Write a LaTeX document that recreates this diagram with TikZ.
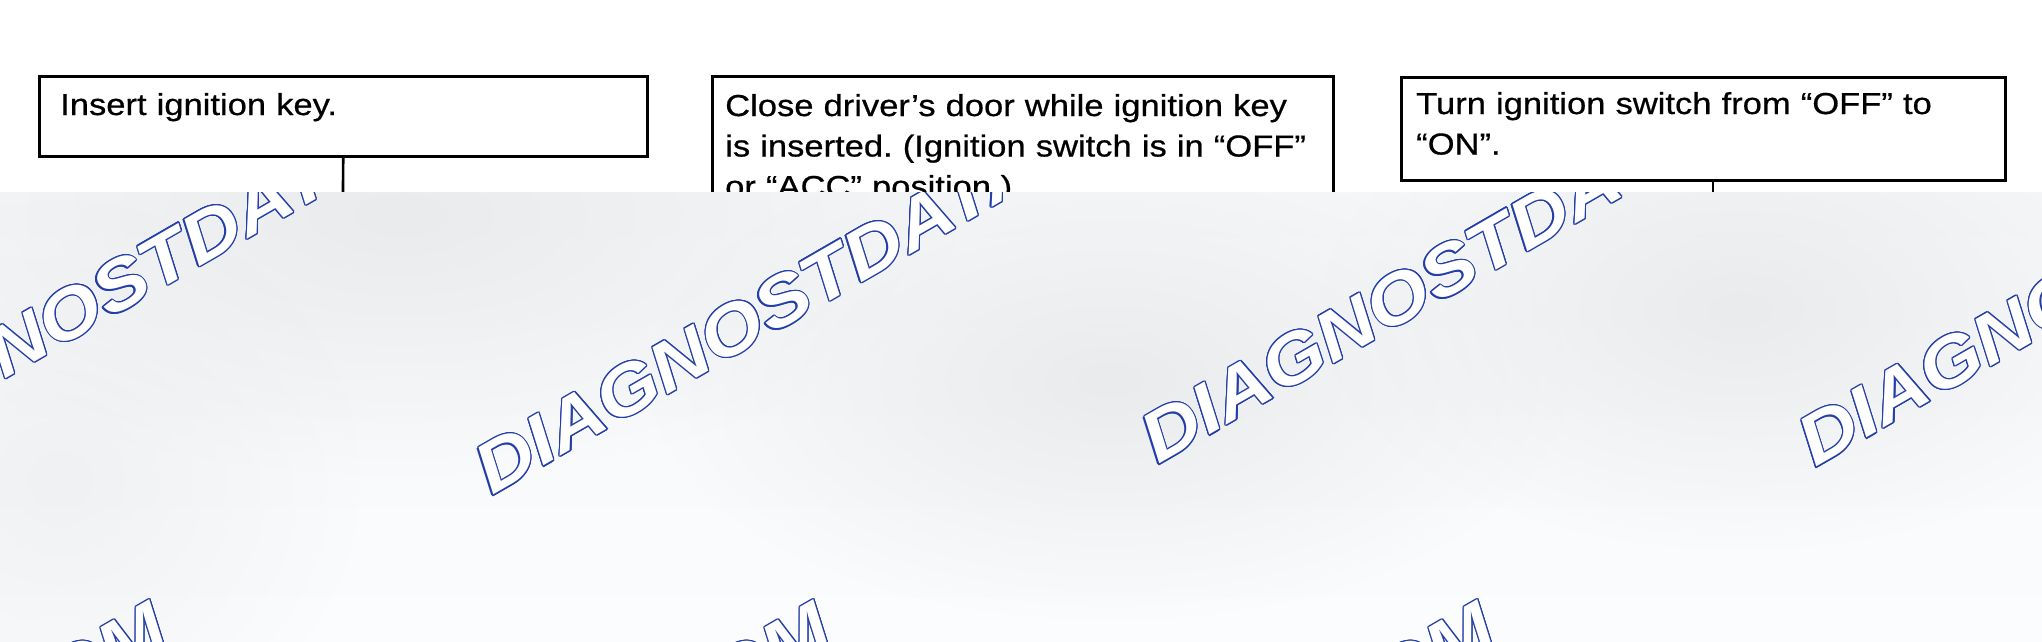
\documentclass[tikz,border=0pt]{standalone}
\usepackage{fontspec}
\usetikzlibrary{fadings}
\setmainfont{Liberation Sans}
\newfontfamily\boxfont{Liberation Sans}[FakeStretch=1.14, FakeBold=0.6]
\newfontfamily\wmfont{Liberation Sans}[FakeStretch=1.15]
\definecolor{wmblue}{RGB}{35,62,168}
\definecolor{bgc}{RGB}{246,247,248}
\definecolor{bgl}{RGB}{251,252,253}
\definecolor{blob}{RGB}{234,235,237}
\tikzfading[name=softblob, inner color=transparent!0, outer color=transparent!100]
\newcommand{\wmark}[1]{%
  \foreach \wa in {0,22.5,...,337.5}{%
    \pgfmathsetlengthmacro\wdx{1.2pt*cos(\wa)}%
    \pgfmathsetlengthmacro\wdy{1.2pt*sin(\wa)}%
    \rlap{\kern\wdx\raisebox{\wdy}{\color{wmblue}#1}}}%
  \textcolor{white}{#1}}
\frenchspacing
\begin{document}
\begin{tikzpicture}[x=1pt,y=-1pt,
  stepbox/.style={draw=black, line width=2.5pt, inner sep=0pt, anchor=north west},
  boxtext/.style={anchor=base west, inner sep=0pt, text width=610pt, align=left,
    font=\boxfont\fontsize{30.3}{40.5}\selectfont},
  link/.style={draw=black, line width=2.6pt},
  wm/.style={anchor=base west, inner sep=0pt, rotate=30,
    font=\wmfont\bfseries\itshape\fontsize{70}{70}\selectfont},
  wmend/.style={wm, anchor=base east}]
\useasboundingbox (0,0) rectangle (2042,642);
\fill[white] (0,0) rectangle (2042,642);

% boxes
\node[stepbox, minimum width=608pt, minimum height=80pt] (b1) at (38,75) {};
\node[stepbox, minimum width=621pt, minimum height=155pt] (b2) at (711,75) {};
\node[stepbox, minimum width=604pt, minimum height=103pt] (b3) at (1400,76) {};

\node[boxtext] (t1) at (60,115) {Insert ignition key.};
\node[boxtext] (t2) at (725,116) {Close driver’s door while ignition key\\is inserted. (Ignition switch is in “OFF”\\or “ACC” position.)};
\node[boxtext] (t3) at (1416,114) {Turn ignition switch from “OFF” to\\“ON”.};

% connectors
\coordinate (e1) at (342,300);
\coordinate (e2) at (1021,300);
\coordinate (e3) at (1713,300);
\draw[link] (b1.south) -- (e1);
\draw[link] (b2.south) -- (e2);
\draw[link] (e3 |- b3.south) -- (e3);

% overlay
\begin{scope}
\clip (0,192) rectangle (2042,642);
\shade[top color=bgc, bottom color=bgl] (0,192) rectangle (2042,642);
\fill[blob, path fading=softblob] (400,215) ellipse (560pt and 260pt);
\fill[blob, path fading=softblob] (1110,380) ellipse (460pt and 240pt);
\fill[blob, path fading=softblob] (1740,310) ellipse (420pt and 240pt);
\fill[blob, path fading=softblob, opacity=0.6] (60,480) ellipse (300pt and 280pt);
\node[wm] (w1) at (-170,480) {\wmark{DIAGNOSTDATA.COM}};
\node[wm] (w2) at (492,496) {\wmark{DIAGNOSTDATA.COM}};
\node[wm] (w3) at (1158,465) {\wmark{DIAGNOSTDATA.COM}};
\node[wm] (w4) at (1815,468) {\wmark{DIAGNOSTDATA.COM}};
\node[wmend] (w5) at (173,642) {\wmark{DIAGNOSTDATA.COM}};
\node[wmend] (w6) at (837,642) {\wmark{DIAGNOSTDATA.COM}};
\node[wmend] (w7) at (1501,642) {\wmark{DIAGNOSTDATA.COM}};
\end{scope}
\end{tikzpicture}
\end{document}
